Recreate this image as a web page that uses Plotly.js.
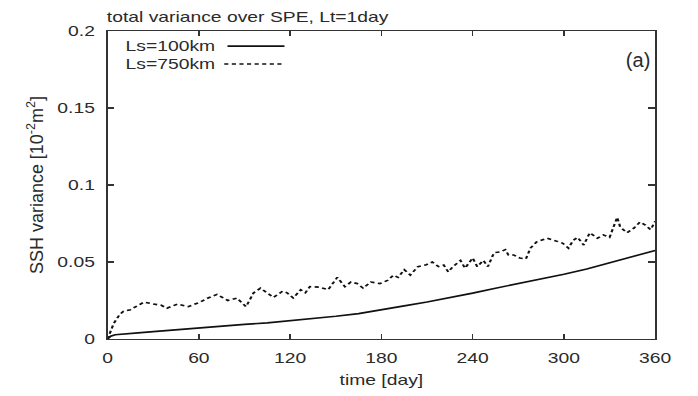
<!DOCTYPE html>
<html>
<head>
<meta charset="utf-8">
<script src="https://cdn.plot.ly/plotly-3.0.1.min.js"></script>
<style>
html,body{margin:0;padding:0;background:#fff;overflow:hidden;}
#wrap{width:698px;height:396px;overflow:hidden;}
#chart{width:506px;height:396px;transform:scaleX(1.3794);transform-origin:0 0;}
</style>
</head>
<body>
<div id="wrap"><div id="chart"></div></div>
<script>
// Ls=100km (solid)
const daysSolid = [0, 2, 5, 10, 20, 30, 45, 60, 75, 90, 105, 120, 135, 150, 165, 180, 195, 210, 225, 240, 255, 270, 285, 300, 315, 330, 345, 360];
const valsSolid = [0, 0.0018, 0.0028, 0.0033, 0.0040, 0.0048, 0.0060, 0.0075, 0.0085, 0.0095, 0.0105, 0.0118, 0.0132, 0.0148, 0.0165, 0.0188, 0.0215, 0.0240, 0.0268, 0.0298, 0.0330, 0.0360, 0.0385, 0.0420, 0.0455, 0.0495, 0.0535, 0.0575];

// Ls=750km (dashed)
const daysDashed = [0, 4, 8, 10.5, 15, 20, 24, 30, 35, 39, 46, 53, 61, 66, 72, 79, 85, 91, 96, 100.5, 105, 109, 115, 118, 122, 127, 130, 133, 139, 145, 151, 156, 160, 164, 168, 173, 179, 184, 188, 191, 195, 199, 204, 209, 213.5, 217.5, 221, 224, 227, 232, 235, 240, 243, 247, 250, 254, 258, 261.5, 263.5, 267, 271, 275, 278, 282, 289, 294, 299, 303, 306, 309, 313, 317, 322, 326, 330, 335, 337, 341.5, 346, 350, 353.5, 357, 360];
const valsDashed = [0, 0.010, 0.016, 0.018, 0.019, 0.022, 0.024, 0.0227, 0.022, 0.020, 0.0227, 0.021, 0.024, 0.0266, 0.029, 0.025, 0.0266, 0.021, 0.030, 0.033, 0.030, 0.027, 0.031, 0.030, 0.0266, 0.032, 0.030, 0.034, 0.0337, 0.032, 0.040, 0.034, 0.037, 0.036, 0.033, 0.037, 0.036, 0.038, 0.0415, 0.040, 0.045, 0.0415, 0.047, 0.048, 0.050, 0.047, 0.048, 0.0435, 0.047, 0.051, 0.046, 0.0526, 0.047, 0.051, 0.047, 0.056, 0.0565, 0.058, 0.0545, 0.0545, 0.0526, 0.052, 0.059, 0.063, 0.0655, 0.064, 0.0623, 0.059, 0.064, 0.066, 0.061, 0.069, 0.0655, 0.0675, 0.066, 0.079, 0.0727, 0.069, 0.072, 0.076, 0.074, 0.071, 0.0765];

const xTicks = [0, 60, 120, 180, 240, 300, 360];
const yTicks = [0, 0.05, 0.1, 0.15, 0.2];
const yTickText = ['0', '0.05', '0.1', '0.15', '0.2'];

const SX = 1.3794; // horizontal stretch of the original figure
const fontFam = 'Liberation Sans, Arial, sans-serif';
const txtColor = '#2a2a2a';

const traces = [
  {x: daysSolid, y: valsSolid, mode: 'lines', name: 'Ls=100km', line: {color: '#111', width: 1.6}},
  {x: daysDashed, y: valsDashed, mode: 'lines', name: 'Ls=750km', line: {color: '#111', width: 1.6, dash: '3px,2.5px'}}
];

const axisCommon = {
  showgrid: false, zeroline: false, showline: true, linecolor: '#333', linewidth: 1.4,
  mirror: 'ticks', ticks: 'inside', ticklen: 5, tickwidth: 1.1, tickcolor: '#333',
  tickfont: {family: fontFam, size: 14, color: txtColor}
};

const layout = {
  width: 506, height: 396,
  margin: {l: 77.6, r: 31.2, t: 31, b: 57},
  paper_bgcolor: '#fff', plot_bgcolor: '#fff',
  showlegend: false,
  title: {text: 'total variance over SPE, Lt=1day', x: 0.153, xanchor: 'left', y: 0.957, yanchor: 'middle',
          font: {family: fontFam, size: 14, color: txtColor}},
  xaxis: Object.assign({}, axisCommon, {range: [0, 360], tickvals: xTicks, ticktext: xTicks.map(String),
          ticklabelstandoff: 6,
          title: {text: 'time [day]', font: {family: fontFam, size: 14, color: txtColor}, standoff: 10}}),
  yaxis: Object.assign({}, axisCommon, {range: [0, 0.2], tickvals: yTicks, ticktext: yTickText,
          ticklabelstandoff: 5,
          title: {text: 'SSH variance [10<sup>-2</sup>m<sup>2</sup>]', font: {family: fontFam, size: 18, color: txtColor}, standoff: 5}}),
  annotations: [
    {xref: 'paper', yref: 'paper', x: 0.027, y: 0.951, xanchor: 'left', yanchor: 'middle', showarrow: false,
     text: 'Ls=100km', font: {family: fontFam, size: 14, color: txtColor}},
    {xref: 'paper', yref: 'paper', x: 0.027, y: 0.893, xanchor: 'left', yanchor: 'middle', showarrow: false,
     text: 'Ls=750km', font: {family: fontFam, size: 14, color: txtColor}},
    {xref: 'paper', yref: 'paper', x: 0.996, y: 0.905, xanchor: 'right', yanchor: 'middle', showarrow: false,
     text: '(a)', font: {family: fontFam, size: 20, color: txtColor}}
  ],
  shapes: [
    {type: 'line', xref: 'paper', yref: 'paper', x0: 0.219, x1: 0.323, y0: 0.951, y1: 0.951, line: {color: '#111', width: 1.6}},
    {type: 'line', xref: 'paper', yref: 'paper', x0: 0.213, x1: 0.323, y0: 0.893, y1: 0.893, line: {color: '#111', width: 1.6, dash: '3px,2.5px'}}
  ]
};

Plotly.newPlot('chart', traces, layout, {displayModeBar: false, staticPlot: true}).then(function () {
  const k = 1 / SX;
  // the "(a)" label and the y title in the original are not horizontally stretched
  document.querySelectorAll('.annotation-text').forEach(function (t) {
    if (t.textContent === '(a)') {
      t.style.transformBox = 'fill-box';
      t.style.transformOrigin = 'right center';
      t.style.transform = 'scaleX(' + k + ')';
    }
  });
  document.querySelectorAll('text.ytitle').forEach(function (t) {
    const x = parseFloat(t.getAttribute('x')) || 0;
    const y = parseFloat(t.getAttribute('y')) || 0;
    const base = t.getAttribute('transform') || '';
    t.setAttribute('transform', base + ' translate(' + x + ',' + y + ') scale(1,' + k + ') translate(' + (-x) + ',' + (-y) + ')');
  });
});
</script>
</body>
</html>
